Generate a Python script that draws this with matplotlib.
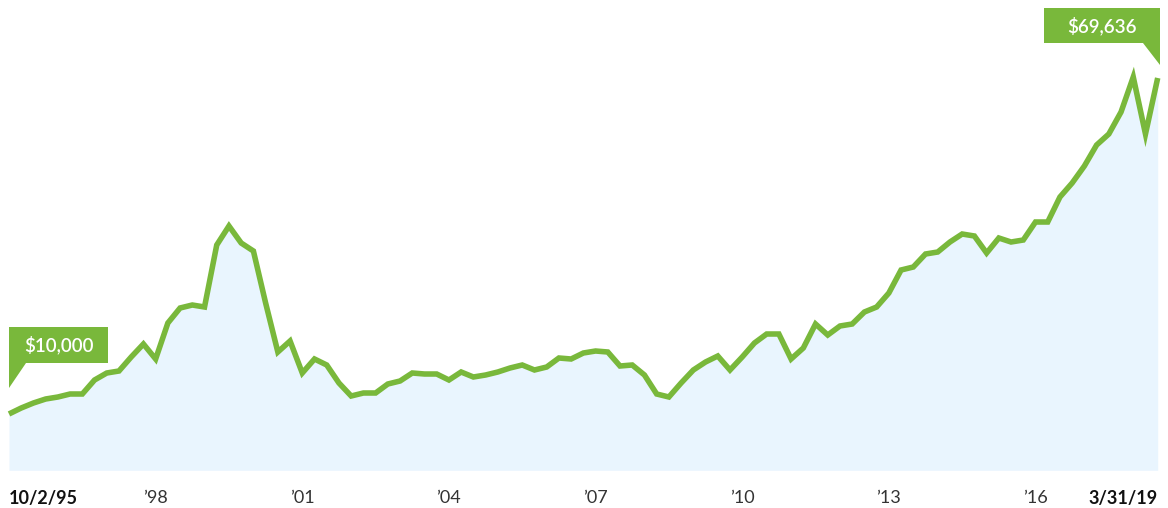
import matplotlib
matplotlib.use("Agg")
import matplotlib.pyplot as plt
import matplotlib.transforms as mtransforms
from matplotlib.patches import Polygon
import numpy as np

# growth of $10,000, quarterly from 10/2/95 to 3/31/19
start_year = 1995.75
step = 0.25
values = [
    10000, 11058, 11945, 12655, 13010, 13543, 13543, 16027, 17270, 17625,
    20110, 22417, 19755, 26144, 28807, 29339, 28984, 39989, 43361, 40343,
    38923, 29694, 20997, 22949, 17270, 19755, 18690, 15495, 13187, 13720,
    13720, 15317, 15850, 17270, 17092, 17092, 16027, 17447, 16560, 16915,
    17447, 18157, 18690, 17802, 18335, 19932, 19755, 20819, 21174, 20997,
    18512, 18690, 16915, 13543, 13010, 15495, 17802, 19222, 20287, 17802,
    20110, 22594, 24192, 24192, 19755, 21707, 25967, 24014, 25612, 25967,
    28097, 28984, 31469, 35551, 36084, 38391, 38746, 40521, 41941, 41586,
    38568, 41231, 40521, 40876, 44071, 44071, 48508, 50993, 54010, 57737,
    59690, 63595, 69807, 59690, 69636,
]
tick_pos = [1998.75, 2001.75, 2004.75, 2007.75, 2010.75, 2013.75, 2016.75]
tick_labels = ["\u201998", "\u201901", "\u201904", "\u201907", "\u201910", "\u201913", "\u201916"]
start_label = "10/2/95"
end_label = "3/31/19"
start_callout = "$10,000"
end_callout = "$69,636"

green = "#79b83b"
fill_blue = "#e9f5fe"
plt.rcParams['font.family'] = ['Lato', 'DejaVu Sans']

years = start_year + step * np.arange(len(values))

fig = plt.figure(figsize=(11.68, 5.08), dpi=100)
ax = fig.add_axes([9 / 1168, (508 - 470.3) / 508, 1148.7 / 1168, 450.3 / 508])
ax.fill_between(years, values, 0, color=fill_blue, linewidth=0)
ax.plot(years, values, color=green, linewidth=4.0, clip_on=False,
        solid_joinstyle='miter', solid_capstyle='butt')
ax.set_xlim(years[0], years[-1])
ax.set_ylim(0, 79926)
for s in ax.spines.values():
    s.set_visible(False)
ax.set_yticks([])

all_pos = [years[0]] + tick_pos + [years[-1]]
all_labels = [start_label] + tick_labels + [end_label]
ax.set_xticks(all_pos)
ax.set_xticklabels(all_labels)
ax.tick_params(axis='x', length=0, pad=14, labelsize=13, colors="#333333")
xt = ax.get_xticklabels()
xt[0].set_ha('left')
xt[0].set_fontweight('bold')
xt[0].set_color('#111111')
xt[-1].set_ha('right')
xt[-1].set_fontweight('bold')
xt[-1].set_color('#111111')


def callout(x, y, verts, text_xy, label):
    # shapes are in inches, offset from the data point
    tr = fig.dpi_scale_trans + mtransforms.ScaledTranslation(x, y, ax.transData)
    poly = Polygon(verts, closed=True, transform=tr, facecolor=green,
                   edgecolor='none', clip_on=False, zorder=5)
    ax.add_patch(poly)
    ax.text(text_xy[0], text_xy[1], label, transform=tr, color='white',
            fontsize=13.5, fontweight='semibold', ha='center', va='center', zorder=6)


callout(years[0], values[0],
        [(0, 0.26), (0, 0.87), (0.99, 0.87), (0.99, 0.51), (0.17, 0.51)],
        (0.495, 0.69), start_callout)
callout(years[-1], values[-1],
        [(0.02, 0.13), (0.02, 0.70), (-1.14, 0.70), (-1.14, 0.35), (-0.15, 0.35)],
        (-0.56, 0.525), end_callout)

fig.savefig("out.png", dpi=100)
